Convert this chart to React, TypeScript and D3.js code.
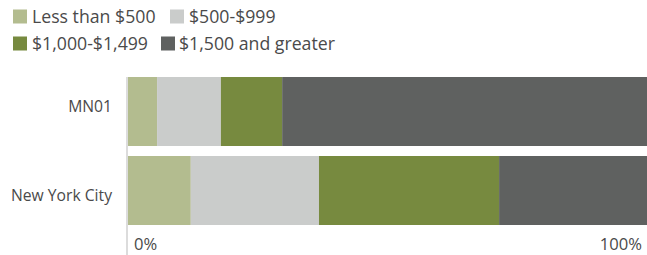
import React from "react";
import * as d3 from "d3";

const categories = ["MN01", "New York City"];
const seriesNames = ["Less than $500", "$500-$999", "$1,000-$1,499", "$1,500 and greater"];
const lessThan500 = [5.6, 12.1];
const from500to999 = [12.3, 24.7];
const from1000to1499 = [11.8, 34.7];
const from1500up = [70.3, 28.5];
const tickLabels = ["0%", "100%"];
const colors = ["#b3bc8f", "#cacccb", "#778a3f", "#5f6160"];

const W = 647;
const H = 255;
const FONT = "'Open Sans', sans-serif";
const TEXT = "#4a4a4a";

export default function App() {
  const values = [lessThan500, from500to999, from1000to1499, from1500up];
  const rows = categories.map((c, i) => {
    const r: any = { category: c };
    seriesNames.forEach((s, j) => (r[s] = values[j][i]));
    return r;
  });
  const stack = d3.stack<any>().keys(seriesNames)(rows);
  const x = d3.scaleLinear().domain([0, 100]).range([128, 647]);
  const y = d3.scaleBand().domain(categories).range([77, 225]).paddingInner(10 / 79).paddingOuter(0);
  const yLabel = d3.scalePoint().domain(categories).range([106.5, 195.5]);

  const legendItems = [
    { i: 0, sx: 13, tx: 32, row: 0 },
    { i: 1, sx: 170, tx: 189, row: 0 },
    { i: 2, sx: 13, tx: 32, row: 1 },
    { i: 3, sx: 161, tx: 179, row: 1 },
  ];

  return (
    <svg width={W} height={H} style={{ position: "absolute", left: 0, top: 0, display: "block" }} fontFamily={FONT}>
      {legendItems.map((l) => {
        const cy = l.row === 0 ? 16.5 : 43.5;
        return (
          <g key={l.i}>
            <rect x={l.sx} y={cy - 7} width={14} height={14} fill={colors[l.i]} />
            <text x={l.tx} y={cy} dy="0.36em" fontSize={17.7} fill={TEXT}>
              {seriesNames[l.i]}
            </text>
          </g>
        );
      })}
      {stack.map((layer, j) => (
        <g key={layer.key} fill={colors[j]}>
          {layer.map((d, i) => (
            <rect
              key={i}
              x={x(d[0])}
              y={y(categories[i])}
              width={x(d[1]) - x(d[0])}
              height={y.bandwidth()}
            />
          ))}
        </g>
      ))}
      <line x1={127} x2={127} y1={77} y2={H} stroke="#d0d0d0" strokeWidth={1.5} />
      {categories.map((c) => (
        <text
          key={c}
          x={112}
          y={yLabel(c)}
          dy="0.36em"
          textAnchor="end"
          fontSize={15.7}
          fill={TEXT}
        >
          {c}
        </text>
      ))}
      <text x={x(0) + 6} y={243.6} dy="0.36em" fontSize={16.6} fill={TEXT}>
        {tickLabels[0]}
      </text>
      <text x={x(100) - 5} y={243.6} dy="0.36em" textAnchor="end" fontSize={16.6} fill={TEXT}>
        {tickLabels[1]}
      </text>
    </svg>
  );
}
